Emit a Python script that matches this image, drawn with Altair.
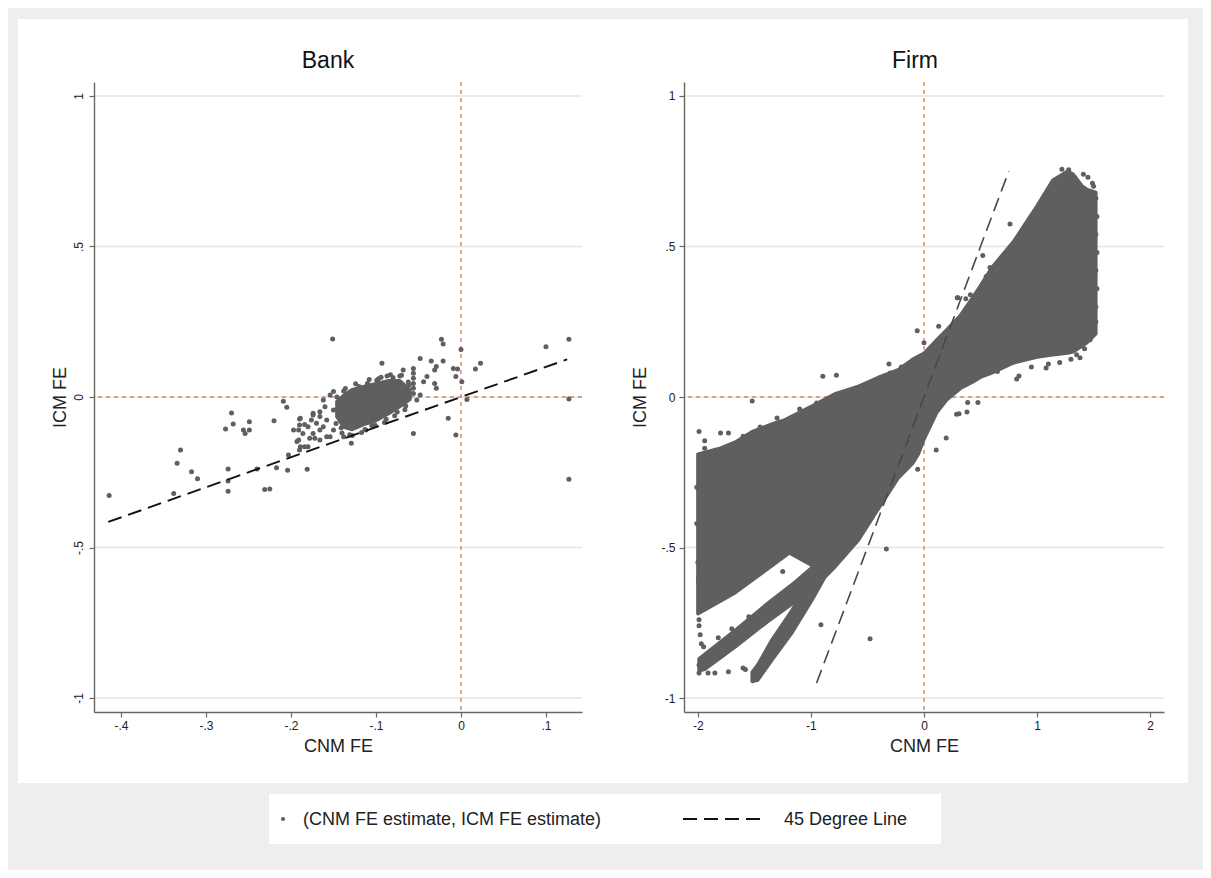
import altair as alt
import pandas as pd

# ---------------- data ----------------
panel_titles = ["Bank", "Firm"]
x_title = "CNM FE"
y_title = "ICM FE"
legend_labels = ["(CNM FE estimate, ICM FE estimate)", "45 Degree Line"]

bank_xticks = [-0.4, -0.3, -0.2, -0.1, 0.0, 0.1]
bank_xlabels = ["-.4", "-.3", "-.2", "-.1", "0", ".1"]
firm_xticks = [-2, -1, 0, 1, 2]
firm_xlabels = ["-2", "-1", "0", "1", "2"]
yticks = [-1, -0.5, 0, 0.5, 1]
ylabels = ["-1", "-.5", "0", ".5", "1"]

bank_xdomain = [-0.4318, 0.1424]
firm_xdomain = [-2.123, 2.123]
ydomain = [-1.0465, 1.0465]

# Bank: individual estimates
bank_x = [-0.414, -0.338, -0.334, -0.330, -0.317, -0.310, -0.277, -0.270, -0.268, -0.274,
          -0.274, -0.274, -0.256, -0.254, -0.249, -0.249, -0.240, -0.231, -0.225, -0.220,
          -0.217, -0.209, -0.205, -0.204, -0.203, -0.197, -0.191, -0.190, -0.190, -0.190,
          -0.184, -0.181, -0.180, -0.174, -0.172, -0.166,
          -0.160, -0.166, -0.174, -0.176, -0.189, -0.191, -0.186, -0.193, -0.174, -0.166,
          -0.180, -0.158, -0.162, -0.150, -0.142, -0.150, -0.154, -0.166, -0.134, -0.138,
          -0.127, -0.119, -0.123, -0.115, -0.142, -0.134, -0.127, -0.170, -0.158, -0.178,
          -0.184, -0.150, -0.154, -0.162,
          -0.151, -0.093, -0.048, -0.035, -0.021, -0.023, -0.021, 0.000, -0.029, -0.031,
          -0.009, -0.004, -0.006, 0.001, 0.017, 0.023, 0.100, 0.127, 0.127, 0.127,
          0.007, -0.015, -0.006, -0.056, -0.129,
          -0.056, -0.056, -0.056, -0.056, -0.056, -0.056,
          -0.068, -0.087, -0.099, -0.044, -0.040, -0.031, -0.029, -0.048, -0.052,
          -0.110, -0.120, -0.105, -0.090, -0.075, -0.065, -0.080, -0.072, -0.062, -0.140,
          -0.131, -0.146, -0.138, -0.112, -0.189,
          -0.145, -0.136, -0.124, -0.117, -0.108, -0.097, -0.083, -0.070, -0.061, -0.128,
          -0.113, -0.101, -0.088, -0.078, -0.147, -0.141, -0.094, -0.066]
bank_y = [-0.327, -0.321, -0.220, -0.176, -0.248, -0.272, -0.106, -0.053, -0.090, -0.239,
          -0.279, -0.313, -0.110, -0.121, -0.110, -0.082, -0.239, -0.307, -0.306, -0.079,
          -0.235, -0.014, -0.034, -0.243, -0.193, -0.110, -0.143, -0.176, -0.093, -0.073,
          -0.091, -0.240, -0.165, -0.054, -0.137, -0.065,
          -0.032, -0.049, -0.060, -0.076, -0.071, -0.110, -0.121, -0.148, -0.121, -0.110,
          -0.099, -0.076, -0.099, -0.043, -0.076, -0.110, -0.132, -0.143, -0.087, -0.132,
          -0.076, -0.054, -0.099, -0.076, -0.010, -0.021, -0.032, -0.087, -0.132, -0.137,
          -0.165, 0.018, 0.007, -0.010,
          0.193, 0.112, 0.128, 0.120, 0.120, 0.192, 0.176, 0.158, 0.101, 0.090,
          0.095, 0.093, 0.068, 0.051, 0.093, 0.112, 0.167, 0.192, -0.007, -0.273,
          -0.008, -0.071, -0.126, -0.121, -0.154,
          0.095, 0.079, 0.062, 0.045, 0.029, 0.012,
          0.090, 0.070, 0.056, 0.051, 0.068, 0.045, 0.029, 0.007, -0.010,
          0.045, 0.035, -0.095, -0.085, -0.050, -0.030, 0.065, 0.070, 0.050, -0.120,
          -0.125, 0.000, 0.020, -0.110, -0.165,
          -0.040, 0.028, 0.044, -0.118, 0.058, 0.061, 0.074, 0.072, 0.040, -0.128,
          -0.108, -0.094, -0.074, -0.062, -0.088, -0.102, 0.066, -0.042]

# Bank: densely overlapping core of the cloud (lower / upper edge per x)
bank_core_x = [-0.146, -0.138, -0.128, -0.115, -0.100, -0.085, -0.072, -0.060]
bank_core_lo = [-0.065, -0.100, -0.108, -0.092, -0.078, -0.055, -0.032, -0.008]
bank_core_hi = [-0.015, 0.005, 0.024, 0.034, 0.044, 0.054, 0.054, 0.024]

# Firm: densely overlapping regions of the cloud (lower / upper edge per x)
firm_main_x = [-2.00, -1.80, -1.67, -1.52, -1.31, -1.23, -0.99, -0.79, -0.58, -0.41,
               -0.23, -0.10, -0.05, 0.00, 0.115, 0.20, 0.32, 0.43, 0.50, 0.60,
               0.79, 1.00, 1.14, 1.27, 1.32, 1.40, 1.44, 1.52]
firm_main_hi = [-0.19, -0.17, -0.15, -0.115, -0.085, -0.076, -0.03, 0.01, 0.035, 0.064,
                0.09, 0.125, 0.135, 0.145, 0.19, 0.223, 0.27, 0.33, 0.37, 0.43,
                0.515, 0.635, 0.72, 0.75, 0.74, 0.70, 0.69, 0.68]
firm_main_lo = [-0.62, -0.58, -0.56, -0.53, -0.50, -0.51, -0.56, -0.565, -0.475, -0.375,
                -0.27, -0.22, -0.19, -0.14, -0.05, -0.01, 0.028, 0.05, 0.066, 0.08,
                0.113, 0.133, 0.14, 0.146, 0.15, 0.17, 0.18, 0.21]
firm_rayA_x = [-1.52, -1.47, -1.345, -1.17, -0.99, -0.88, -0.79]
firm_rayA_lo = [-0.945, -0.94, -0.874, -0.784, -0.674, -0.60, -0.565]
firm_rayA_hi = [-0.915, -0.89, -0.807, -0.71, -0.60, -0.54, -0.50]
firm_rayB_x = [-1.99, -1.94, -1.67, -1.38, -1.14, -0.94]
firm_rayB_lo = [-0.91, -0.905, -0.83, -0.745, -0.68, -0.61]
firm_rayB_hi = [-0.87, -0.855, -0.775, -0.685, -0.615, -0.55]
firm_rayC_x = [-2.00, -1.67, -1.38, -1.20]
firm_rayC_lo = [-0.72, -0.65, -0.57, -0.52]
firm_rayC_hi = [-0.60, -0.55, -0.50, -0.47]

# Firm: isolated estimates around the cloud
firm_x = [-1.52, -0.895, -0.775, -0.477, -0.333, -0.912, 0.288, 0.386, 0.477, 0.196,
          0.108, -0.056, 0.294, 0.37, 0.761, 0.52, 0.584, 0.55, 0.30, 0.41,
          -0.06, 0.13, 0.0, -0.31, 1.08, 0.82, 0.84, 0.31, 0.38, 1.41,
          1.45, 1.49, -1.99, -1.80, -1.73, -1.94, -1.94, -1.99, -1.99, -1.91,
          -1.85, -1.73, -1.60, -1.58, 1.52, 1.52, 1.53, 1.52, 1.53, 1.52,
          1.53, 1.52, 1.50, 1.28, 1.22, -1.88, -1.60, -1.45, -1.30, -1.10,
          -0.95, -0.60, -0.45, -0.30, -0.20, -1.99, -1.98, -1.95, -1.99, -1.97,
          -1.82, -1.70, -1.55, -1.40, 1.35, 1.42, 1.47, 1.38, 1.30, 1.20,
          1.10, 0.95, -2.01, -2.01, -2.00, -1.85, -1.62, -1.25, -1.05, 0.65]
firm_y = [-0.013, 0.069, 0.072, -0.803, -0.505, -0.757, -0.057, -0.018, -0.018, -0.136,
          -0.176, -0.24, 0.33, 0.326, 0.575, 0.47, 0.43, 0.40, 0.33, 0.34,
          0.22, 0.235, 0.18, 0.11, 0.096, 0.06, 0.07, -0.056, -0.05, 0.74,
          0.73, 0.71, -0.115, -0.12, -0.12, -0.145, -0.17, -0.89, -0.917, -0.917,
          -0.917, -0.913, -0.90, -0.905, 0.25, 0.30, 0.36, 0.42, 0.48, 0.54,
          0.60, 0.66, 0.70, 0.755, 0.757, -0.19, -0.13, -0.10, -0.07, -0.04,
          -0.02, 0.03, 0.05, 0.08, 0.10, -0.76, -0.79, -0.83, -0.74, -0.82,
          -0.80, -0.77, -0.73, -0.70, 0.14, 0.16, 0.19, 0.13, 0.125, 0.115,
          0.11, 0.10, -0.30, -0.42, -0.55, -0.66, -0.60, -0.58, -0.63, 0.085]

# 45 degree lines (drawn over the range of each panel's estimates)
bank_line_x = [-0.415, 0.125]
bank_line_y = [-0.415, 0.125]
firm_line_x = [-0.95, 0.75]
firm_line_y = [-0.95, 0.75]

# ---------------- styles ----------------
FONT = "Liberation Sans"
DOT = "#5f5f5f"
REF = "#c8896c"
GRID = "#e4e4e4"
AXIS = "#666666"
TXT = "#222222"
H = 630
W_BANK = 488
W_FIRM = 480


def label_expr(vals, labs):
    e = "''"
    for v, l in zip(reversed(vals), reversed(labs)):
        e = f"abs(datum.value - ({v})) < 1e-6 ? '{l}' : ({e})"
    return e


def bands_frame(parts):
    rows = []
    for name, xs, lo, hi in parts:
        for a, b, c in zip(xs, lo, hi):
            rows.append({"band": name, "x": a, "lo": b, "hi": c})
    return pd.DataFrame(rows)


def make_panel(idx, pts, bands, line, xdom, xt, xl, width, line_color, line_w,
               rotate_y, ytitle_x, title_dx, first):
    x_axis = alt.Axis(values=xt, labelExpr=label_expr(xt, xl), title=x_title,
                      grid=False, zindex=1, domainColor=AXIS, domainWidth=1.4,
                      tickColor=AXIS, tickSize=5, tickWidth=1.2,
                      labelFont=FONT, labelFontSize=12, labelColor=TXT, labelPadding=3,
                      titleFont=FONT, titleFontSize=18, titleFontWeight="normal",
                      titleColor=TXT, titleX=width / 2, titleY=34,
                      titleBaseline="middle", titleAlign="center")
    if rotate_y:
        lab = dict(labelAngle=270, labelAlign="center", labelBaseline="bottom",
                   labelPadding=4)
    else:
        lab = dict(labelAngle=0, labelAlign="right", labelBaseline="middle",
                   labelPadding=4)
    y_axis = alt.Axis(values=yticks, labelExpr=label_expr(yticks, ylabels),
                      title=y_title, grid=False, zindex=1, domainColor=AXIS,
                      domainWidth=1.4, tickColor=AXIS, tickSize=5, tickWidth=1.2,
                      labelFont=FONT, labelFontSize=12, labelColor=TXT,
                      titleFont=FONT, titleFontSize=18, titleFontWeight="normal",
                      titleColor=TXT, titleX=ytitle_x, titleY=H / 2, titleAngle=270,
                      titleBaseline="middle", titleAlign="center", **lab)
    xs = alt.Scale(domain=xdom, nice=False, zero=False)
    ys = alt.Scale(domain=ydomain, nice=False, zero=False)

    def X(f):
        return alt.X(f, type="quantitative", scale=xs, axis=x_axis)

    def Y(f):
        return alt.Y(f, type="quantitative", scale=ys, axis=y_axis)

    one = pd.DataFrame({"k": [0]})
    layers = []
    if first:
        layers.append(alt.Chart(one).mark_rect(color="#eeeeee").encode(
            x=alt.value(-86), x2=alt.value(1109), y=alt.value(-74), y2=alt.value(788)))
        layers.append(alt.Chart(one).mark_rect(color="#ffffff").encode(
            x=alt.value(-76), x2=alt.value(1094), y=alt.value(-63), y2=alt.value(701)))
        # legend box and entries
        layers.append(alt.Chart(one).mark_rect(color="#ffffff").encode(
            x=alt.value(175), x2=alt.value(847), y=alt.value(712), y2=alt.value(762)))
        layers.append(alt.Chart(one).mark_circle(color=DOT, size=18, opacity=1).encode(
            x=alt.value(189), y=alt.value(737)))
        layers.append(alt.Chart(pd.DataFrame({"t": [legend_labels[0]]})).mark_text(
            align="left", baseline="middle", font=FONT, fontSize=18, color=TXT).encode(
            text="t:N", x=alt.value(209), y=alt.value(738)))
        layers.append(alt.Chart(one).mark_rule(color="#111111", strokeWidth=2,
                                               strokeDash=[14, 7]).encode(
            x=alt.value(589), x2=alt.value(666), y=alt.value(737)))
        layers.append(alt.Chart(pd.DataFrame({"t": [legend_labels[1]]})).mark_text(
            align="left", baseline="middle", font=FONT, fontSize=18, color=TXT).encode(
            text="t:N", x=alt.value(690), y=alt.value(738)))

    # panel title
    layers.append(alt.Chart(pd.DataFrame({"t": [panel_titles[idx]]})).mark_text(
        align="center", baseline="alphabetic", font=FONT, fontSize=23,
        color="#111111").encode(text="t:N", x=alt.value(width / 2 + title_dx),
                                y=alt.value(-14)))

    grid = pd.DataFrame({"v": yticks})
    layers.append(alt.Chart(grid).mark_rule(color=GRID, strokeWidth=1.6).encode(y=Y("v")))
    zero = pd.DataFrame({"v": [0.0]})
    layers.append(alt.Chart(zero).mark_rule(color=REF, strokeWidth=1.4,
                                            strokeDash=[4, 4]).encode(x=X("v")))
    layers.append(alt.Chart(zero).mark_rule(color=REF, strokeWidth=1.4,
                                            strokeDash=[4, 4]).encode(y=Y("v")))
    layers.append(alt.Chart(bands).mark_area(color=DOT, opacity=1, stroke=DOT,
                                             strokeWidth=3.5, strokeJoin="round").encode(
        x=X("x"), y=Y("lo"), y2=alt.Y2("hi"), detail="band:N"))
    layers.append(alt.Chart(pts).mark_circle(color=DOT, size=25, opacity=1).encode(
        x=X("x"), y=Y("y")))
    layers.append(alt.Chart(line).mark_line(color=line_color, strokeWidth=line_w,
                                            strokeDash=[14, 7]).encode(
        x=X("x"), y=Y("y")))

    return alt.layer(*layers).properties(width=width, height=H)


bank_pts = pd.DataFrame({"x": bank_x, "y": bank_y})
firm_pts = pd.DataFrame({"x": firm_x, "y": firm_y})
bank_bands = bands_frame([("core", bank_core_x, bank_core_lo, bank_core_hi)])
firm_bands = bands_frame([
    ("main", firm_main_x, firm_main_lo, firm_main_hi),
    ("rayA", firm_rayA_x, firm_rayA_lo, firm_rayA_hi),
    ("rayB", firm_rayB_x, firm_rayB_lo, firm_rayB_hi),
    ("rayC", firm_rayC_x, firm_rayC_lo, firm_rayC_hi),
])
bank_line = pd.DataFrame({"x": bank_line_x, "y": bank_line_y})
firm_line = pd.DataFrame({"x": firm_line_x, "y": firm_line_y})

left = make_panel(0, bank_pts, bank_bands, bank_line, bank_xdomain, bank_xticks,
                  bank_xlabels, W_BANK, "#111111", 1.9, True, -34, -10, True)
right = make_panel(1, firm_pts, firm_bands, firm_line, firm_xdomain, firm_xticks,
                   firm_xlabels, W_FIRM, "#484848", 1.6, False, -44, -9, False)

chart = alt.hconcat(left, right, spacing=102, bounds="flush").properties(
    background="#eeeeee", padding=0
).configure_view(stroke=None)

chart.save("out.html", embed_options={"renderer": "svg", "actions": False})
